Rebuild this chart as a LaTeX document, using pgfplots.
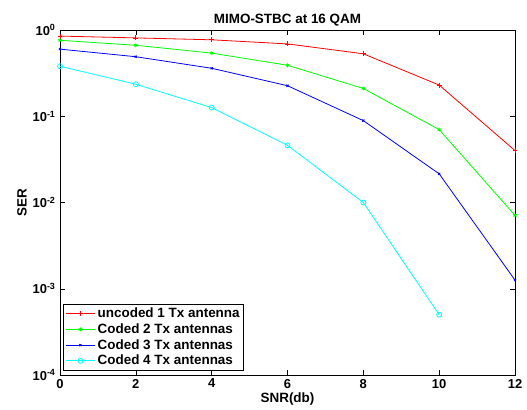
\documentclass[border=0pt]{standalone}
\usepackage{pgfplots}
\pgfplotsset{compat=1.18}
\usepackage{fontspec}
\setmainfont{Liberation Sans}

\definecolor{mred}{RGB}{255,0,0}
\definecolor{mgreen}{RGB}{0,255,0}
\definecolor{mblue}{RGB}{0,0,255}
\definecolor{mcyan}{RGB}{0,255,255}

\begin{document}
\begin{tikzpicture}
\useasboundingbox (-60bp,-35bp) rectangle (467bp,375bp);
\begin{axis}[
    at={(0,0)}, anchor=south west,
    scale only axis,
    width=455bp, height=345bp,
    ymode=log, log basis y=10,
    xmin=0, xmax=12, ymin=1e-4, ymax=1,
    xtick={0,2,...,12},
    ytick={1e-4,1e-3,1e-2,1e-1,1},
    tick align=inside,
    axis line style={line width=0.8pt},
    major tick length=5bp, minor tick length=3bp,
    every tick/.style={black, line width=0.5pt},
    /pgf/number format/assume math mode=true,
    ticklabel style={font=\bfseries\fontsize{13}{14}\selectfont},
    xticklabel style={yshift=-0.5bp},
    yticklabel style={xshift=-1bp},
    yticklabel={10\textsuperscript{\fontsize{9}{10}\selectfont\pgfmathprintnumber{\tick}}},
    title={MIMO-STBC at 16 QAM},
    title style={font=\bfseries\fontsize{13.5}{15}\selectfont, yshift=-6bp},
    xlabel={SNR(db)}, ylabel={SER},
    label style={font=\bfseries\fontsize{13.5}{15}\selectfont},
    xlabel style={yshift=2.5bp},
    ylabel style={yshift=-1bp},
    legend style={at={(0.006,0.012)}, anchor=south west, draw=black, line width=0.8pt,
        fill=white, font=\bfseries\fontsize{13.5}{15}\selectfont,
        row sep=0.5pt, inner sep=2pt},
    legend cell align=left,
    legend image code/.code={
        \draw[#1, line width=0.8pt] (0cm,0cm) -- (1.05cm,0cm);
        \draw[#1, only marks] plot coordinates {(0.525cm,0cm)};
    },
    every axis plot/.append style={line width=0.8pt, mark size=2.5pt},
]
\addplot[mred, mark=+] coordinates {
(0,0.85) (2,0.81) (4,0.77) (6,0.69) (8,0.53) (10,0.23) (12,0.04)};
\addplot[mgreen, mark=asterisk, mark size=2pt] coordinates {
(0,0.76) (2,0.665) (4,0.54) (6,0.39) (8,0.21) (10,0.07) (12,0.0071)};
\addplot[mblue, mark=x, mark size=1.5pt] coordinates {
(0,0.60) (2,0.49) (4,0.36) (6,0.226) (8,0.089) (10,0.0215) (12,0.00126)};
\addplot[mcyan, mark=o, mark size=2.5pt] coordinates {
(0,0.38) (2,0.235) (4,0.126) (6,0.046) (8,0.010) (10,0.0005)};
\legend{uncoded 1 Tx antenna, Coded 2 Tx antennas, Coded 3 Tx antennas, Coded 4 Tx antennas}
\end{axis}
\end{tikzpicture}
\end{document}
